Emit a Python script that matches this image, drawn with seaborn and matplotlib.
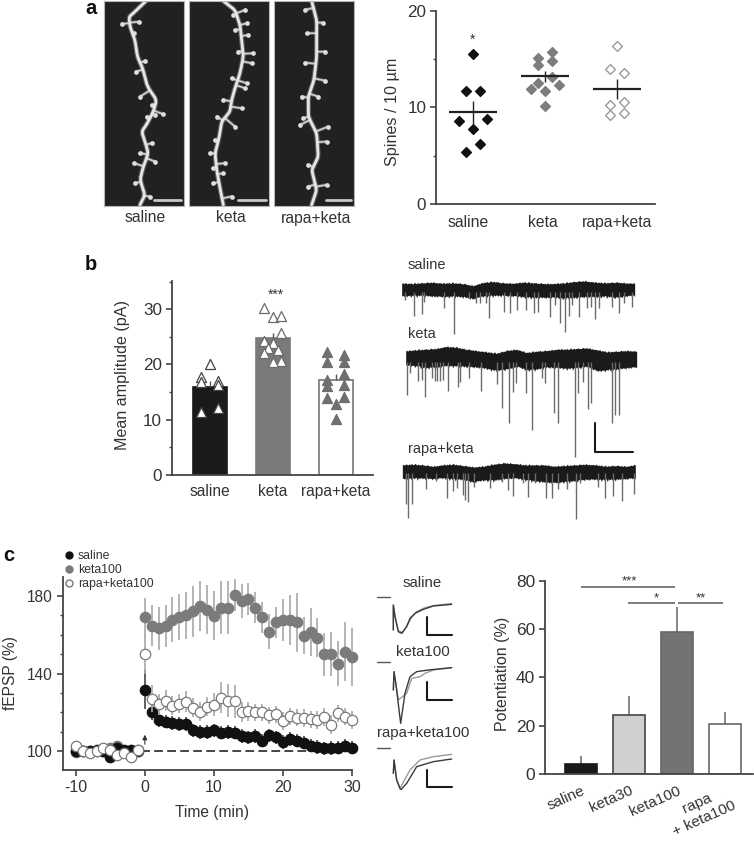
import numpy as np
import pandas as pd
import matplotlib
matplotlib.use("Agg")
import matplotlib.pyplot as plt
import seaborn as sns

sns.set_style("ticks")
plt.rcParams["font.family"] = ["Liberation Sans", "DejaVu Sans"]
INK = "#333333"
plt.rcParams.update({"text.color": INK, "axes.labelcolor": INK, "xtick.labelcolor": INK,
                     "ytick.labelcolor": INK, "axes.edgecolor": "#444444",
                     "xtick.color": "#444444", "ytick.color": "#444444",
                     "axes.unicode_minus": False})

W, H = 754, 843

# ---------- panel a data ----------
groups_a = ["saline", "keta", "rapa+keta"]
a_saline_off = [0, -.1, .1, -.2, .2, 0, .1, -.1]
a_saline = [15.5, 11.7, 11.7, 8.6, 8.8, 7.8, 6.2, 5.4]
a_keta_off = [.1, -.1, .1, -.1, .1, -.1, .2, -.2, 0, 0]
a_keta = [15.7, 15.1, 14.8, 14.4, 13.1, 12.55, 12.35, 11.9, 11.7, 10.1]
a_rapa_off = [0, -.1, .1, .1, -.1, -.1, .1]
a_rapa = [16.3, 14.0, 13.6, 10.6, 10.2, 9.2, 9.45]
a_means = [9.5, 13.2, 11.9]
a_low = [8.3, 12.6, 10.9]
a_high = [10.7, 13.8, 12.9]

path_saline = [(258, 3), (225, 35), (207, 50), (210, 80), (225, 120), (232, 170), (248, 205), (262, 260),
               (290, 300), (280, 335), (262, 370), (245, 395), (255, 425), (265, 460), (250, 500), (240, 540),
               (255, 585), (240, 615)]
tips_saline = [(185, 72), (222, 100), (238, 65), (255, 183), (228, 215), (310, 343), (240, 290), (275, 315),
               (285, 345), (240, 460), (222, 490), (285, 485), (225, 550), (275, 430), (260, 350), (270, 590)]
path_keta = [(490, 3), (525, 30), (540, 75), (545, 120), (550, 170), (540, 220), (525, 265), (515, 300), (510, 335),
             (485, 365), (478, 410), (465, 460), (470, 510), (480, 565), (490, 615)]
tips_keta = [(520, 45), (555, 30), (560, 70), (525, 90), (565, 105), (535, 155), (580, 160), (575, 190), (515, 235),
             (560, 250), (555, 265), (490, 300), (545, 325), (470, 350), (525, 380), (465, 420), (450, 460),
             (495, 490), (460, 505), (490, 520), (460, 550), (515, 590)]
path_rapa = [(755, 3), (770, 60), (770, 110), (770, 170), (762, 240), (745, 290), (745, 350), (770, 400), (775, 470),
             (755, 510), (770, 570), (755, 615)]
tips_rapa = [(735, 30), (790, 68), (740, 100), (795, 155), (735, 188), (795, 242), (725, 290), (775, 290), (730, 355),
             (720, 375), (805, 380), (800, 425), (745, 495), (800, 555), (745, 560)]

# ---------- panel b data ----------
b_groups = ["saline", "keta", "rapa+keta"]
b_means = [16.0, 24.7, 17.1]
b_err = [1.0, 1.0, 1.1]
b_saline_off = [0, -.36, .36, -.36, .36, .36, -.36]
b_saline = [20, 17.8, 17, 16.9, 16.2, 12.2, 11.4]
b_keta_off = [-.36, 0, .36, .36, -.36, 0, -.2, .24, -.36, .36, 0]
b_keta = [30.2, 28.6, 28.7, 25.7, 24.3, 23.8, 22.9, 22.6, 22.0, 20.7, 20.4]
b_rapa_off = [-.38, .36, -.38, .36, .36, -.38, -.38, .36, .36, -.38, 0, 0]
b_rapa = [22.2, 21.7, 20.5, 20.5, 18.3, 17.2, 16.1, 16.3, 14.2, 13.9, 12.8, 10.1]

# ---------- recording traces ----------
top_sal = [27, 28, 26, 24, 27, 26, 28, 34, 25, 22, 26, 27, 24, 26, 28, 28, 26, 22, 20, 24, 26, 24, 26, 28]
bot_sal = [60, 58, 58, 60, 62, 60, 62, 68, 60, 58, 58, 60, 62, 64, 64, 64, 66, 64, 62, 62, 60, 64, 60, 58]
spk_sal = [(15, 75), (42, 122), (65, 118), (72, 80), (132, 98), (163, 178), (207, 70), (228, 85), (240, 85), (257, 85),
           (267, 128), (312, 112), (330, 115), (350, 105), (378, 105), (402, 115), (415, 112), (450, 125), (465, 90),
           (480, 145), (494, 170), (507, 122), (517, 90), (537, 125), (560, 100), (572, 95), (585, 132), (597, 100),
           (636, 95), (657, 115), (672, 85), (695, 97)]
top_ket = [35, 32, 30, 28, 22, 24, 30, 34, 38, 42, 34, 30, 40, 36, 34, 30, 30, 28, 26, 32, 38, 36, 34, 36]
bot_ket = [72, 74, 80, 78, 74, 74, 76, 78, 82, 88, 84, 76, 86, 84, 78, 80, 82, 80, 76, 90, 86, 84, 80, 78]
spk_ket = [(21, 165), (30, 100), (55, 122), (65, 120), (74, 172), (96, 115), (105, 122), (112, 122), (120, 122),
           (128, 120), (145, 153), (173, 140), (180, 125), (208, 115), (243, 152), (290, 132), (306, 205), (327, 250),
           (338, 155), (348, 128), (378, 158), (397, 270), (425, 115), (435, 128), (462, 220), (473, 248), (524, 350),
           (534, 160), (550, 125), (563, 208), (572, 190), (636, 250), (645, 225), (658, 225)]
top_rap = [32, 30, 32, 36, 32, 30, 34, 38, 36, 30, 26, 28, 32, 32, 32, 36, 34, 32, 30, 32, 36, 34, 36, 32]
bot_rap = [68, 66, 66, 68, 66, 68, 70, 78, 72, 72, 68, 66, 70, 74, 78, 80, 76, 74, 70, 70, 70, 70, 68, 66]
spk_rap = [(17, 148), (25, 190), (35, 147), (78, 102), (107, 78), (140, 128), (160, 108), (172, 100), (188, 120),
           (195, 135), (203, 142), (222, 95), (270, 98), (305, 80), (323, 105), (338, 122), (368, 85), (385, 125),
           (405, 85), (437, 130), (455, 128), (475, 102), (500, 103), (527, 193), (540, 85), (593, 95), (615, 130),
           (640, 122), (665, 138), (703, 118)]
jag_up = [2, 4, 1, 3, 5, 1, 2, 4, 1, 5, 2, 1, 3, 6, 1, 2, 4, 1, 3, 2, 5, 1, 3, 1, 2, 5, 2, 3, 1, 4, 1, 2, 5, 1, 2, 3, 1, 3]
jag_dn = [3, 1, 5, 2, 1, 7, 2, 4, 1, 9, 3, 2, 6, 1, 2, 10, 1, 5, 3, 1, 6, 2, 3, 8, 1, 2, 5, 1, 4, 2, 7, 1, 3, 5, 1, 6, 2, 1]

# ---------- panel c time course ----------
t_base = [-10, -9, -8, -7, -6, -5, -4, -3, -2, -1]
t_post = list(range(0, 31))
base_sal = [100, 100, 100, 100.5, 100, 97, 101.5, 100.5, 100.7, 100]
base_ket = [99.7, 100, 100, 100, 100, 101.5, 103, 100.2, 99, 100.7]
base_rap = [103, 100.3, 99, 100.3, 101.5, 100.8, 98, 99, 97, 100.8]
post_ket = [169, 164.7, 163.3, 164.5, 167.6, 169, 170, 172, 174.8, 172.8, 169.7, 174, 174, 180.5, 177.4, 178.3, 174,
            169, 161.6, 166.3, 167.6, 167.5, 166.3, 159.6, 161.6, 158.5, 150, 150, 145, 151.3, 148.4]
err_ket = [10, 10.5, 11, 11, 11.6, 11.7, 12, 13, 13, 12.6, 12.6, 13.6, 13.6, 8.4, 8.6, 8.3, 8, 8, 9, 8, 10.7, 12.9,
           15, 9.4, 12.3, 10, 11, 11.3, 11.6, 15, 15]
post_rap = [150, 127.1, 124.2, 126, 123.5, 124.5, 125.6, 122.5, 120.4, 123, 124, 127.5, 126, 125.8, 120.3, 120.6, 120,
            120, 118.5, 119, 115.5, 118, 117.3, 117.2, 116.5, 116, 117.7, 113.7, 119.6, 117.9, 116.1]
err_rap = [10, 7, 5.5, 5.5, 5, 5, 5.5, 5, 5, 5, 6, 8, 8.5, 8.5, 5, 5, 4.5, 4.5, 4.5, 4.5, 4.5, 4.5, 4.5, 4.5, 4.5,
           4.5, 4.5, 5, 4.5, 4.5, 4.5]
post_sal = [131.6, 120, 116, 115.3, 114.5, 114, 114, 110.8, 110, 110, 110.8, 109.6, 110, 109.6, 108, 107.2, 108, 105.5,
            108.2, 107.2, 104.8, 106.5, 105.5, 104.5, 103, 102.2, 101.5, 101.7, 101.9, 103, 101.9]
err_sal = [10, 4] + [3.5] * 29
legend_c = ["saline", "keta100", "rapa+keta100"]

# ---------- panel c bars ----------
c_groups = ["saline", "keta30", "keta100", "rapa\n+ keta100"]
c_vals = [4.1, 24.3, 58.9, 20.7]
c_tops = [7.4, 32.3, 69.2, 25.5]

# ---------- small EPSP waveforms ----------
w1_a = [(70, 210), (70, 135), (75, 170), (85, 215), (95, 220), (110, 200), (120, 175), (135, 160), (160, 148), (190, 138), (245, 133)]
w1_b = [(70, 210), (70, 135), (75, 170), (85, 212), (98, 218), (112, 195), (125, 172), (140, 155), (165, 143), (195, 136), (245, 131)]
w2_a = [(70, 390), (72, 335), (78, 375), (92, 490), (105, 400), (120, 350), (140, 335), (175, 330), (245, 323)]
w2_b = [(70, 390), (72, 335), (85, 420), (110, 400), (125, 355), (150, 350), (165, 340), (190, 330), (245, 323)]
w3_a = [(70, 640), (72, 600), (80, 660), (92, 690), (110, 670), (140, 620), (190, 605), (245, 597)]
w3_b = [(70, 640), (72, 600), (80, 660), (90, 685), (120, 630), (150, 600), (190, 590), (245, 583)]


def pix_axes(x, y, w, h, **kw):
    return fig.add_axes([x / W, 1 - (y + h) / H, w / W, h / H], **kw)


def ftext(x, y, s, **kw):
    kw.setdefault("ha", "center")
    kw.setdefault("va", "center")
    fig.text(x / W, 1 - y / H, s, **kw)


def style(ax, size=12):
    sns.despine(ax=ax)
    for s in ("left", "bottom"):
        ax.spines[s].set_linewidth(1.3)
    ax.tick_params(axis="y", which="major", length=4.5, width=1.2, labelsize=size, pad=2.5)
    ax.tick_params(axis="y", which="minor", length=2.5, width=1.0)
    ax.patch.set_alpha(0)


fig = plt.figure(figsize=(W / 100, H / 100), dpi=100)

# ---------- a: dendrite images ----------
rects = [(133, path_saline, tips_saline, (282, 362)),
         (388, path_keta, tips_keta, (535, 617)),
         (641, path_rapa, tips_rapa, (797, 873))]
for x0, path, tips, bar in rects:
    ax = pix_axes(60 + x0 / 3, 1, 80, 204.5)
    ax.set_facecolor("#212121")
    ax.set_xlim(x0, x0 + 240)
    ax.set_ylim(617, 3)
    ax.set_xticks([]), ax.set_yticks([])
    for s in ax.spines.values():
        s.set_color("#b5b5b5")
        s.set_linewidth(0.8)
    px, py = np.array(path).T
    dense_t = np.linspace(0, len(px) - 1, 400)
    dx = np.interp(dense_t, np.arange(len(px)), px)
    dy = np.interp(dense_t, np.arange(len(py)), py)
    kern = np.ones(15) / 15
    dx[7:-7] = np.convolve(dx, kern, mode="valid")
    dy[7:-7] = np.convolve(dy, kern, mode="valid")
    ax.plot(dx, dy, color="#8a8a8a", lw=3.6, solid_capstyle="round", alpha=.6)
    for tx, ty in tips:
        i = np.argmin((dx - tx) ** 2 + (dy - ty) ** 2)
        ax.plot([dx[i], tx], [dy[i], ty], color="#8f8f8f", lw=2.4, solid_capstyle="round", alpha=.55)
        ax.plot([dx[i], tx], [dy[i], ty], color="#d0d0d0", lw=1.2, solid_capstyle="round")
        ax.plot([tx], [ty], "o", color="#dddddd", ms=3.4, mew=0)
    ax.plot(dx, dy, color="#e6e6e6", lw=2.0, solid_capstyle="round")
    ax.plot(bar, [600, 600], color="#c8c8c8", lw=2)

ftext(145, 218, "saline", fontsize=11.3)
ftext(231, 218, "keta", fontsize=11.3)
ftext(316, 218, "rapa+keta", fontsize=11.3)

# ---------- a: scatter ----------
ax = pix_axes(436, 10.7, 219, 193.3)
for i, (off, vals, fc, ec) in enumerate([(a_saline_off, a_saline, "#111111", "#111111"),
                                         (a_keta_off, a_keta, "#7d7d7d", "#7d7d7d"),
                                         (a_rapa_off, a_rapa, "white", "#9a9a9a")]):
    sns.scatterplot(x=np.array(off) + i, y=vals, marker="D", s=25, color=fc, edgecolor=ec, linewidth=1.0, ax=ax, zorder=3)
    ax.hlines(a_means[i], i - .33, i + .33, color="#222222", lw=1.6, zorder=4)
    ax.vlines(i, a_low[i], a_high[i], color="#222222", lw=1.0, zorder=4)
ax.text(0, 17.0, "*", ha="center", va="center", fontsize=10)
ax.set_xlim(-.514, 2.53)
ax.set_ylim(0, 20)
ax.set_yticks([0, 10, 20])
ax.set_yticks([5, 15], minor=True)
ax.set_xticks([-.06, .97, 2.0], groups_a)
ax.tick_params(axis="x", length=0, labelsize=11.3, pad=8)
style(ax, 12.3)
ftext(392.5, 112, "Spines / 10 µm", rotation=90, fontsize=11.6)

# ---------- b: bars ----------
ax = pix_axes(171.7, 281, 201.3, 194)
df_b = pd.DataFrame({"group": b_groups, "value": b_means})
sns.barplot(df_b, x="group", y="value", hue="group", palette=["#1a1a1a", "#7a7a7a", "#ffffff"], width=.53,
            legend=False, errorbar=None, ax=ax, saturation=1, zorder=1)
for p, ec in zip(ax.patches, ["#1a1a1a", "#7a7a7a", "#777777"]):
    p.set_edgecolor(ec)
    p.set_linewidth(1.2)
ax.vlines(range(3), b_means, np.array(b_means) + np.array(b_err), color="#555555", lw=1, zorder=1)
for i, (off, vals, fc, ec) in enumerate([(b_saline_off, b_saline, "white", "#444444"),
                                         (b_keta_off, b_keta, "white", "#6a6a6a"),
                                         (b_rapa_off, b_rapa, "#6f6f6f", "#6f6f6f")]):
    sns.scatterplot(x=np.array(off) * .37 + i, y=vals, marker="^", s=52, color=fc, edgecolor=ec, linewidth=.9, ax=ax, zorder=3)
ax.text(1.05, 32.6, "***", ha="center", va="center", fontsize=10)
ax.set_xlim(-.605, 2.59)
ax.set_ylim(0, 35.1)
ax.set_yticks([0, 10, 20, 30])
ax.set_yticks([5, 15, 25, 35], minor=True)
ax.set_xlabel(""), ax.set_ylabel("")
ax.tick_params(axis="x", length=0, labelsize=11.2, pad=6.5)
style(ax, 12.3)
ftext(122, 375, "Mean amplitude (pA)", rotation=90, fontsize=11.6)

# ---------- b: traces ----------
for (y0, h, x1, x2, top, bot, spk, base) in [(275, 65, 5, 707, top_sal, bot_sal, spk_sal, 50),
                                             (340, 120, 17, 712, top_ket, bot_ket, spk_ket, 65),
                                             (455, 70, 7, 708, top_rap, bot_rap, spk_rap, 55)]:
    ax = pix_axes(400, y0, 240, h)
    ax.axis("off")
    ax.set_xlim(0, 720)
    ax.set_ylim(h * 3, 0)
    sx, sy = np.array(spk).T
    ax.vlines(sx, base, sy, color="#6b6b6b", lw=1.0)
    bx = np.linspace(x1, x2, len(top))
    fine_x = np.arange(x1, x2, 3)
    ftop = np.interp(fine_x, bx, top) - np.resize(jag_up, len(fine_x))
    fbot = np.interp(fine_x, bx, bot) + np.resize(jag_dn, len(fine_x))
    ax.fill_between(fine_x, ftop, fbot, color="#1a1a1a", lw=0)
    if y0 == 340:
        ax.plot([584, 584, 698], [250, 335, 335], color="#1a1a1a", lw=1.5)

ftext(408, 265, "saline", ha="left", fontsize=10.5)
ftext(408, 334, "keta", ha="left", fontsize=10.5)
ftext(408, 449.5, "rapa+keta", ha="left", fontsize=10.5)

# ---------- c: time course ----------
ax = pix_axes(62.7, 577, 289.3, 193)
t_all = np.array(t_base + t_post)
for pre, post, err, fc, ec, s, z in [(base_ket, post_ket, err_ket, "#7b7b7b", "#7b7b7b", 56, 3),
                                     (base_sal, post_sal, err_sal, "#111111", "#111111", 56, 5),
                                     (base_rap, post_rap, err_rap, "white", "#7a7a7a", 56, 6)]:
    ax.vlines(t_post, np.array(post) - np.array(err), np.array(post) + np.array(err),
              color="#a8a8a8" if ec != "#111111" else "#444444", lw=1.2, zorder=z - 1, clip_on=False)
    sns.scatterplot(x=t_all, y=list(pre) + list(post), s=s, color=fc, edgecolor=ec, linewidth=.9, ax=ax, zorder=z,
                    clip_on=False)
ax.hlines(100, -10, 30, color="#444444", lw=1.4, ls=(0, (4.5, 2.2)), zorder=2)
ax.annotate("", xy=(0, 110), xytext=(0, 102.2),
            arrowprops=dict(arrowstyle="-|>", color="#333333", lw=.8, mutation_scale=7))
ax.set_xlim(-11.9, 30)
ax.set_ylim(90.4, 189.7)
ax.set_xticks([-10, 0, 10, 20, 30])
ax.set_yticks([100, 140, 180])
ax.set_yticks([110, 120, 130, 150, 160, 170], minor=True)
ax.tick_params(axis="x", length=4.5, width=1.2, labelsize=11.5, pad=2.5)
style(ax, 11.2)
ftext(212, 813, "Time (min)", fontsize=11.2)
ftext(11, 673, "fEPSP (%)", rotation=90, fontsize=11.2)

handles = [plt.Line2D([], [], ls="", marker="o", ms=5, mfc="#111111", mec="#111111"),
           plt.Line2D([], [], ls="", marker="o", ms=5, mfc="#7b7b7b", mec="#7b7b7b"),
           plt.Line2D([], [], ls="", marker="o", ms=5, mfc="white", mec="#777777")]
leg = fig.legend(handles, legend_c, loc="upper left", bbox_to_anchor=(60 / W, 1 - 550 / H), frameon=False, fontsize=8.8,
                 handletextpad=.05, labelspacing=.18, borderpad=0, borderaxespad=0, handlelength=1.4)

# ---------- c: waveforms ----------
ax = pix_axes(370, 560, 100, 230)
ax.axis("off")
ax.set_xlim(0, 300)
ax.set_ylim(690, 0)
for base_y, a, b, sb in [(112, w1_a, w1_b, (170, 226)), (307, w2_a, w2_b, (365, 420)), (565, w3_a, w3_b, (630, 680))]:
    ax.plot([20, 60], [base_y, base_y], color="#555555", lw=1)
    ax.plot(*np.array(b).T, color="#9a9a9a", lw=1)
    ax.plot(*np.array(a).T, color="#3a3a3a", lw=1)
    ax.plot([172, 172, 247], [sb[0], sb[1], sb[1]], color="#1a1a1a", lw=1.5)
ftext(422.5, 583, "saline", fontsize=10.8)
ftext(422.5, 652.5, "keta100", fontsize=10.8)
ftext(423, 733, "rapa+keta100", fontsize=10.8)

# ---------- c: potentiation bars ----------
ax = pix_axes(545, 580.7, 208, 193.3)
df_c = pd.DataFrame({"group": c_groups, "value": c_vals})
sns.barplot(df_c, x="group", y="value", hue="group", palette=["#1a1a1a", "#d0d0d0", "#737373", "#ffffff"], width=.67,
            legend=False, errorbar=None, ax=ax, saturation=1, zorder=2)
for p, ec in zip(ax.patches, ["#1a1a1a", "#444444", "#666666", "#666666"]):
    p.set_edgecolor(ec)
    p.set_linewidth(1.2)
ax.vlines(range(4), c_vals, c_tops, color="#666666", lw=1.1, zorder=1)
ax.hlines(77.2, .0, 1.96, color="#666666", lw=1.2)
ax.hlines(70.8, .98, 1.96, color="#666666", lw=1.2)
ax.hlines(70.8, 2.01, 2.96, color="#666666", lw=1.2)
ax.text(1.0, 79.5, "***", ha="center", va="center", fontsize=9.5)
ax.text(1.57, 72.5, "*", ha="center", va="center", fontsize=9.5)
ax.text(2.5, 72.5, "**", ha="center", va="center", fontsize=9.5)
ax.set_xlim(-.75, 3.58)
ax.set_ylim(0, 80)
ax.set_yticks([0, 20, 40, 60, 80])
ax.set_xlabel(""), ax.set_ylabel("")
ax.tick_params(axis="x", length=0, labelsize=11, pad=7)
for lab in ax.get_xticklabels():
    lab.set(rotation=24, ha="right", va="top", rotation_mode="anchor", multialignment="center")
style(ax, 12.5)
ftext(503, 674, "Potentiation (%)", rotation=90, fontsize=11.5)

# ---------- panel letters ----------
ftext(85, 14, "a", ha="left", va="baseline", fontsize=14.5, fontweight="bold", color="#111111")
ftext(85, 270, "b", ha="left", va="baseline", fontsize=14.5, fontweight="bold", color="#111111")
ftext(3, 561, "c", ha="left", va="baseline", fontsize=14.5, fontweight="bold", color="#111111")

fig.savefig("out.png", dpi=100)
